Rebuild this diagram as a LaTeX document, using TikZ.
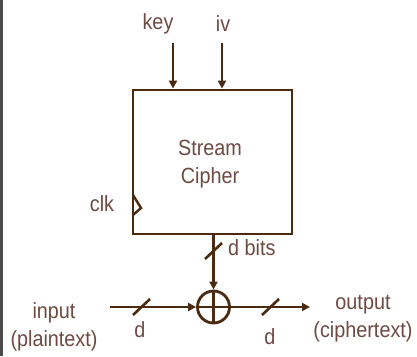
\documentclass[tikz,border=0pt]{standalone}
\usepackage{fontspec}
\setmainfont{Liberation Sans}[FakeStretch=0.9]
\usetikzlibrary{arrows.meta}
\definecolor{ln}{HTML}{4B2A10}
\definecolor{tx}{HTML}{6E4A44}
\definecolor{bd}{HTML}{4A4A4A}
\tikzset{
  wire/.style={draw=ln, line width=2.8pt},
  arr/.style={wire, -{Triangle[length=8pt,width=8pt]}},
  lbl/.style={text=tx, font=\fontsize{22}{28}\selectfont, inner sep=0pt, align=center},
  busmark/.style={draw=ln, line width=2.6pt}
}
\begin{document}
\begin{tikzpicture}[x=1pt,y=-1pt]
\useasboundingbox (0,0) rectangle (417,356);
\fill[white] (0,0) rectangle (417,356);
\fill[bd] (0,0) rectangle (2.5,356);
% cipher box
\node[wire, rectangle, minimum width=159pt, minimum height=144pt, inner sep=0pt] (sc) at (212.5,162) {};
\node[lbl] (sctext) at (210,164) {Stream\\Cipher};
% inputs
\node[lbl] (key) at (158,24) {key};
\node[lbl] (iv) at (223,24) {iv};
\coordinate (keys) at (173,43);
\coordinate (ivs) at (222,43);
\draw[arr] (keys) -- (keys |- sc.north);
\draw[arr] (ivs) -- (ivs |- sc.north);
% clock
\node[lbl] (clk) at (102,204) {clk};
\coordinate (c1) at (133,195);
\coordinate (c2) at (141,208);
\coordinate (c3) at (133,215);
\draw[draw=ln, line width=2.4pt, line join=miter] (c1) -- (c2) -- (c3);
% xor
\node[wire, circle, minimum size=32pt, inner sep=0pt] (xor) at (213.5,307) {};
\draw[draw=ln, line width=2.4pt] (xor.north) -- (xor.south) (xor.west) -- (xor.east);
\coordinate (scb) at (213.5,234);
\draw[arr] (scb) -- (xor.north);
\draw[busmark] (205,259) -- (222,243);
\node[lbl, anchor=west] (dbits) at (228,248) {d bits};
% input
\node[lbl] (inp) at (54,327) {input\\(plaintext)};
\coordinate (ins) at (110,307);
\draw[arr] (ins) -- (xor.west);
\draw[busmark] (133,315) -- (150,299);
\node[lbl] (d1) at (140,330) {d};
% output
\coordinate (oute) at (310,307);
\draw[arr] (xor.east) -- (oute);
\draw[busmark] (262,315) -- (279,299);
\node[lbl] (d2) at (270,337) {d};
\node[lbl] (outp) at (363,319) {output\\(ciphertext)};
\end{tikzpicture}
\end{document}
